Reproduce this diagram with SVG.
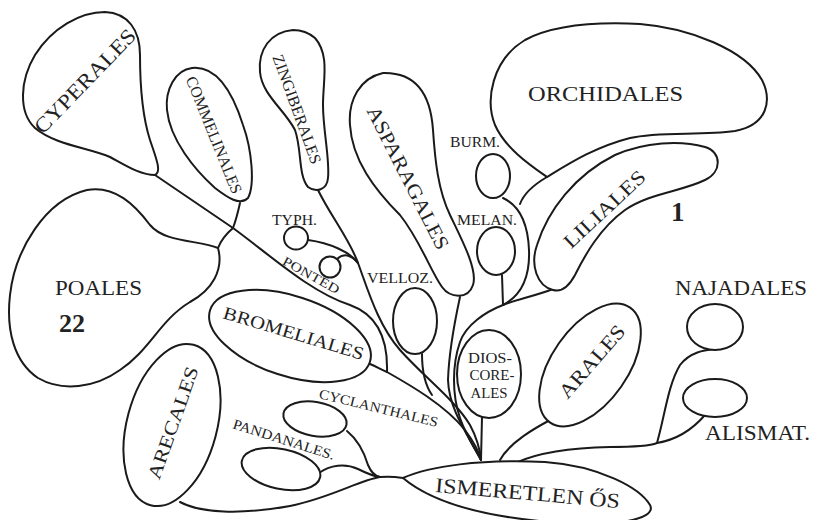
<svg xmlns="http://www.w3.org/2000/svg" width="813" height="520" viewBox="0 0 813 520">
<style>
.n{fill:#fff;stroke:#1a1a1a;stroke-width:2;stroke-linejoin:round}
.c{fill:none;stroke:#1a1a1a;stroke-width:2;stroke-linecap:round;stroke-linejoin:round}
text{font-family:"Liberation Serif","DejaVu Serif",serif;fill:#222}
.b{font-weight:bold}
</style>
<rect width="813" height="520" fill="#fff"/>
<g id="connectors">
<path class="c" d="M155,175 L233,228 C270,255 310,292 350,305 C378,315 388,340 387,372 C410,385 445,405 465,430 C474,442 479,452 481,460"/>
<path class="c" d="M370,364 C377,367 382,370 387,372"/>
<path class="c" d="M240,203 C238,212 236,220 233,228"/>
<path class="c" d="M233,228 C226,234 221,240 218,248"/>
<path class="c" d="M318,190 C330,215 350,240 358,263 C368,290 378,325 400,350 C425,378 455,400 470,425 C477,438 480,450 481,460"/>
<path class="c" d="M308,240 C330,243 350,252 358,263"/>
<path class="c" d="M337,259 C345,252 352,256 358,263"/>
<path class="c" d="M422,354 C422,370 425,385 432,395"/>
<path class="c" d="M460,297 C455,320 449,350 448,380 C449,410 468,435 481,460"/>
<path class="c" d="M553,289 C535,296 515,300 503,305 C485,312 466,325 460,342 C452,365 452,395 460,418 C467,438 476,450 481,460"/>
<path class="c" d="M502,275 L503,305"/>
<path class="c" d="M503,198 C520,206 528,225 529,250 C530,275 522,295 503,305"/>
<path class="c" d="M547,177 C535,184 524,193 520,204"/>
<path class="c" d="M482,417 L481,460"/>
<path class="c" d="M552,419 C535,428 510,442 500,460"/>
<path class="c" d="M518,462 C540,452 570,448 610,447 C635,447 650,446 657,443"/>
<path class="c" d="M657,443 C665,415 668,385 680,365 C690,352 705,350 714,349"/>
<path class="c" d="M657,443 C675,440 692,430 705,415"/>
<path class="c" d="M180,502 C200,513 240,515 290,506 C330,498 360,480 380,477 C390,476 397,477 403,478"/>
<path class="c" d="M319,473 C330,465 345,463 358,469 C366,473 372,476 380,477"/>
<path class="c" d="M347,431 C358,440 365,455 368,465 C371,472 374,476 380,477"/>
</g>
<g id="cyperales"><path class="n" d="M155,175 C140,175 125,165 110,157 C90,148 55,145 35,128 C18,112 20,80 35,55 C52,28 80,12 105,12 C128,13 140,30 140,55 C140,85 142,115 150,140 C156,158 162,172 155,175 Z"/>
<text x="90" y="86" font-size="21" text-anchor="middle" textLength="136" lengthAdjust="spacingAndGlyphs" transform="rotate(-46 90 86)">CYPERALES</text></g>
<g id="commelinales"><path class="n" d="M192,68 C175,70 165,90 167,110 C170,140 195,170 215,188 C228,198 240,206 248,198 C255,185 252,150 243,125 C235,100 220,65 192,68 Z"/>
<text x="209" y="137" font-size="16" text-anchor="middle" textLength="125" lengthAdjust="spacingAndGlyphs" transform="rotate(68 209 137)">COMMELINALES</text></g>
<g id="zingiberales"><path class="n" d="M293,30 C270,32 258,50 260,72 C262,95 285,110 295,130 C302,150 298,175 308,187 C316,193 327,190 328,178 C330,160 323,130 323,105 C323,80 330,55 315,38 C308,32 300,30 293,30 Z"/>
<text x="292" y="111" font-size="16" text-anchor="middle" textLength="115" lengthAdjust="spacingAndGlyphs" transform="rotate(70 292 111)">ZINGIBERALES</text></g>
<g id="poales"><path class="n" d="M218,248 C224,270 212,290 190,302 C160,320 150,350 120,370 C95,388 62,392 38,378 C14,362 6,330 10,295 C15,250 45,200 87,190 C115,185 135,205 150,225 C165,243 200,240 218,248 Z"/>
<text x="55" y="295" font-size="21" textLength="87" lengthAdjust="spacingAndGlyphs">POALES</text>
<text x="59" y="332" font-size="26" class="b">22</text></g>
<g id="asparagales"><path class="n" d="M383,73 C360,78 348,100 350,125 C352,160 375,190 400,215 C420,240 430,270 442,287 C450,298 468,300 473,285 C478,270 462,240 450,215 C438,190 435,160 433,130 C431,100 420,72 383,73 Z"/>
<text x="402" y="181" font-size="20" text-anchor="middle" textLength="158" lengthAdjust="spacingAndGlyphs" transform="rotate(63 402 181)">ASPARAGALES</text></g>
<g id="orchidales"><path class="n" d="M547,177 C530,165 505,148 495,125 C485,100 492,60 525,40 C555,24 600,22 640,24 C690,28 745,50 762,80 C772,100 768,125 735,131 C700,136 660,131 630,138 C595,147 570,163 547,177 Z"/>
<text x="528" y="101" font-size="22" textLength="155" lengthAdjust="spacingAndGlyphs">ORCHIDALES</text></g>
<g id="liliales"><path class="n" d="M553,290 C537,286 530,265 537,245 C548,210 575,175 615,155 C645,142 680,140 705,147 C722,152 722,172 705,180 C680,192 650,193 625,210 C600,228 585,255 575,275 C568,288 560,292 553,290 Z"/>
<text x="609" y="214" font-size="20" text-anchor="middle" textLength="104" lengthAdjust="spacingAndGlyphs" transform="rotate(-43 609 214)">LILIALES</text>
<text x="671" y="221" font-size="27" class="b">1</text></g>
<g id="burm"><ellipse class="n" cx="493" cy="176" rx="17" ry="22"/><text x="450" y="147" font-size="14" textLength="50" lengthAdjust="spacingAndGlyphs">BURM.</text></g>
<g id="melan"><ellipse class="n" cx="496" cy="251" rx="19" ry="24"/><text x="457" y="225" font-size="14" textLength="60" lengthAdjust="spacingAndGlyphs">MELAN.</text></g>
<g id="typh"><ellipse class="n" cx="296" cy="238" rx="12" ry="11.5"/><text x="272" y="225" font-size="14" textLength="45" lengthAdjust="spacingAndGlyphs">TYPH.</text></g>
<g id="ponted"><circle class="n" cx="330" cy="267" r="10.5"/><text x="309" y="279" font-size="13" text-anchor="middle" textLength="63" lengthAdjust="spacingAndGlyphs" transform="rotate(29 309 279)">PONTED</text></g>
<g id="velloz"><ellipse class="n" cx="415" cy="321" rx="22" ry="33"/><text x="367" y="283" font-size="14" textLength="66" lengthAdjust="spacingAndGlyphs">VELLOZ.</text></g>
<g id="bromeliales"><ellipse class="n" cx="290" cy="336" rx="84" ry="40" transform="rotate(18 290 336)"/>
<text x="292" y="339" font-size="18" text-anchor="middle" textLength="146" lengthAdjust="spacingAndGlyphs" transform="rotate(16.7 292 339)">BROMELIALES</text></g>
<g id="arecales"><ellipse class="n" cx="172" cy="425" rx="45" ry="83" transform="rotate(15 172 425)"/>
<text x="179" y="425" font-size="19" text-anchor="middle" textLength="118" lengthAdjust="spacingAndGlyphs" transform="rotate(-70.5 179 425)">ARECALES</text></g>
<g id="cyclanthales"><ellipse class="n" cx="315" cy="419" rx="32" ry="17" transform="rotate(10 315 419)"/>
<text x="377.5" y="412.5" font-size="14" text-anchor="middle" textLength="122" lengthAdjust="spacingAndGlyphs" transform="rotate(13.7 377.5 412.5)">CYCLANTHALES</text></g>
<g id="pandanales"><ellipse class="n" cx="281" cy="469" rx="40" ry="20" transform="rotate(12 281 469)"/>
<text x="282.5" y="444" font-size="14" text-anchor="middle" textLength="106" lengthAdjust="spacingAndGlyphs" transform="rotate(17.6 282.5 444)">PANDANALES.</text></g>
<g id="dioscoreales"><ellipse class="n" cx="489" cy="374" rx="32" ry="44"/>
<text x="490" y="363" font-size="15" text-anchor="middle" textLength="44" lengthAdjust="spacingAndGlyphs">DIOS-</text>
<text x="492" y="380" font-size="15" text-anchor="middle" textLength="45" lengthAdjust="spacingAndGlyphs">CORE-</text>
<text x="489" y="398" font-size="15" text-anchor="middle" textLength="37" lengthAdjust="spacingAndGlyphs">ALES</text></g>
<g id="arales"><ellipse class="n" cx="590" cy="365" rx="70" ry="38" transform="rotate(-55 590 365)"/>
<text x="597" y="366" font-size="20" text-anchor="middle" textLength="90" lengthAdjust="spacingAndGlyphs" transform="rotate(-49 597 366)">ARALES</text></g>
<g id="najadales"><ellipse class="n" cx="715" cy="327" rx="28" ry="23"/><text x="675" y="295" font-size="22" textLength="132" lengthAdjust="spacingAndGlyphs">NAJADALES</text></g>
<g id="alismat"><ellipse class="n" cx="715" cy="398" rx="32" ry="19"/><text x="705" y="440" font-size="22" textLength="105" lengthAdjust="spacingAndGlyphs">ALISMAT.</text></g>
<g id="ismeretlen"><path class="n" d="M403,478 C430,466 480,459 545,462 C600,466 640,488 650,505 C658,520 610,528 550,522 C490,517 435,505 403,478 Z"/>
<text x="527" y="500" font-size="21" text-anchor="middle" textLength="185" lengthAdjust="spacingAndGlyphs" transform="rotate(5 527 500)">ISMERETLEN ŐS</text></g>
</svg>
